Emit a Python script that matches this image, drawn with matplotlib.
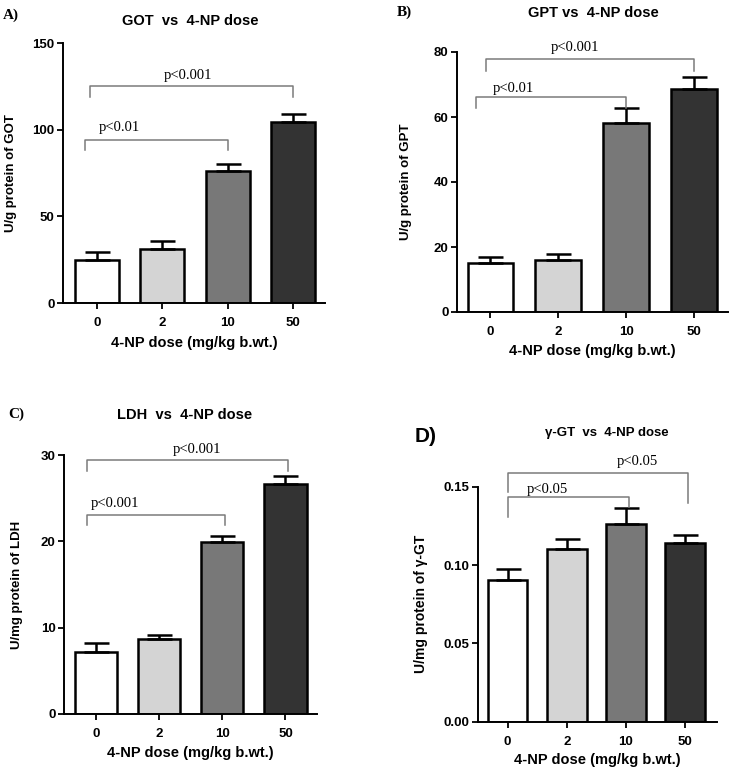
import matplotlib
matplotlib.use("Agg")
import matplotlib.pyplot as plt

# ---- data ----
doses = ["0", "2", "10", "50"]
bar_colors = ["#ffffff", "#d4d4d4", "#787878", "#333333"]

got_mean = [24.8, 31.2, 76.3, 104.6]
got_err = [4.4, 4.6, 3.7, 4.3]
gpt_mean = [15.2, 16.0, 58.2, 68.5]
gpt_err = [1.8, 2.0, 4.5, 3.7]
ldh_mean = [7.22, 8.69, 19.96, 26.6]
ldh_err = [1.04, 0.46, 0.64, 1.0]
ggt_mean = [0.0904, 0.110, 0.126, 0.1143]
ggt_err = [0.0070, 0.0068, 0.0106, 0.0047]

got_ticks = [0, 50, 100, 150]
gpt_ticks = [0, 20, 40, 60, 80]
ldh_ticks = [0, 10, 20, 30]
ggt_ticks = [0.00, 0.05, 0.10, 0.15]

plt.rcParams['font.family'] = ['Liberation Sans', 'DejaVu Sans']

W, H = 729, 769
fig = plt.figure(figsize=(W / 100, H / 100), dpi=100)


def px_axes(left, right, top, bottom):
    return fig.add_axes([left / W, 1 - bottom / H, (right - left) / W, (bottom - top) / H])


def panel(ax, means, errs, ticks, ylim, xlim, ylabel, fmt, brackets,
          ylab_x, xlab_y, ylab_size):
    x = list(range(len(doses)))
    ax.bar(x, means, width=0.67, color=bar_colors, edgecolor="black", linewidth=1.8, zorder=2)
    ax.errorbar(x, means, yerr=[[0] * 4, errs], fmt="none", ecolor="black",
                elinewidth=1.8, capsize=9, capthick=1.8, zorder=3)
    ax.set_xlim(*xlim)
    ax.set_ylim(*ylim)
    ax.set_xticks(x)
    ax.set_xticklabels(doses, fontweight="bold", fontsize=9.5)
    ax.set_yticks(ticks)
    ax.set_yticklabels([fmt.format(t) for t in ticks], fontweight="bold", fontsize=9.5)
    for s in ("top", "right"):
        ax.spines[s].set_visible(False)
    for s in ("left", "bottom"):
        ax.spines[s].set_linewidth(1.4)
    ax.tick_params(axis="both", direction="out", length=4, width=1.3, pad=2)
    ax.tick_params(axis="x", pad=6)
    ax.set_ylabel(ylabel, fontweight="bold", fontsize=ylab_size)
    ax.yaxis.set_label_coords(ylab_x, 0.5)
    ax.yaxis.label.set_verticalalignment("center")
    ax.set_xlabel("4-NP dose (mg/kg b.wt.)", fontweight="bold", fontsize=10.5)
    ax.xaxis.set_label_coords(0.5, xlab_y)
    ax.xaxis.label.set_verticalalignment("center")
    for (x0, x1, yh, yl0, yl1, label, tx, ty) in brackets:
        ax.plot([x0, x0, x1, x1], [yl0, yh, yh, yl1], color="#7a7a7a", lw=1.1,
                clip_on=False, zorder=4)
        ax.text(tx, ty, label, family=["Liberation Serif", "DejaVu Serif"], fontsize=10.5,
                ha="center", va="center", clip_on=False)


serif = ["Liberation Serif", "DejaVu Serif"]

# Panel A
axA = px_axes(63, 325, 43, 303)
panel(axA, got_mean, got_err, got_ticks, (0, 150), (-0.52, 3.49),
      "U/g protein of GOT", "{:.0f}",
      [(-0.18, 2.0, 94, 88, 88, "p<0.01", 0.35, 101.5),
       (-0.1, 3.0, 125, 119, 119, "p<0.001", 1.4, 131.5)],
      -0.2, -0.155, 9.5)
fig.text(190 / W, 1 - 21 / H, "GOT  vs  4-NP dose", ha="center", va="center",
         fontweight="bold", fontsize=10.5)
fig.text(3 / W, 1 - 15 / H, "A)", ha="left", va="center", fontweight="bold",
         family=serif, fontsize=11)

# Panel B
axB = px_axes(457, 728, 52, 312)
panel(axB, gpt_mean, gpt_err, gpt_ticks, (0, 80), (-0.49, 3.5),
      "U/g protein of GPT", "{:.0f}",
      [(-0.21, 2.0, 66.1, 62.7, 62.7, "p<0.01", 0.34, 68.8),
       (-0.07, 3.0, 77.8, 74.2, 74.2, "p<0.001", 1.24, 81.4)],
      -0.19, -0.15, 9.5)
fig.text(593 / W, 1 - 13 / H, "GPT vs  4-NP dose", ha="center", va="center",
         fontweight="bold", fontsize=10.5)
fig.text(397 / W, 1 - 12 / H, "B)", ha="left", va="center", fontweight="bold",
         family=serif, fontsize=11)

# Panel C
axC = px_axes(64, 317, 455, 714)
panel(axC, ldh_mean, ldh_err, ldh_ticks, (0, 30), (-0.51, 3.5),
      "U/mg protein of LDH", "{:.0f}",
      [(-0.14, 2.04, 23.1, 21.9, 21.9, "p<0.001", 0.29, 24.4),
       (-0.14, 3.04, 29.4, 28.1, 28.1, "p<0.001", 1.6, 30.6)],
      -0.186, -0.152, 9.5)
fig.text(185 / W, 1 - 415 / H, "LDH  vs  4-NP dose", ha="center", va="center",
         fontweight="bold", fontsize=10.5)
fig.text(8 / W, 1 - 414 / H, "C)", ha="left", va="center", fontweight="bold",
         family=serif, fontsize=11)

# Panel D
axD = px_axes(478, 717, 486.7, 721.7)
panel(axD, ggt_mean, ggt_err, ggt_ticks, (0, 0.15), (-0.5, 3.54),
      "U/mg protein of \u03b3-GT", "{:.2f}",
      [(0.0, 2.05, 0.1432, 0.1309, 0.137, "p<0.05", 0.68, 0.1479),
       (0.0, 3.05, 0.159, 0.1468, 0.1398, "p<0.05", 2.19, 0.166)],
      -0.24, -0.165, 10)
fig.text(607 / W, 1 - 433 / H, "\u03b3-GT  vs  4-NP dose", ha="center", va="center",
         fontweight="bold", fontsize=9.5)
fig.text(415 / W, 1 - 437 / H, "D)", ha="left", va="center", fontweight="bold",
         fontsize=15)

fig.savefig("out.png", dpi=100)
